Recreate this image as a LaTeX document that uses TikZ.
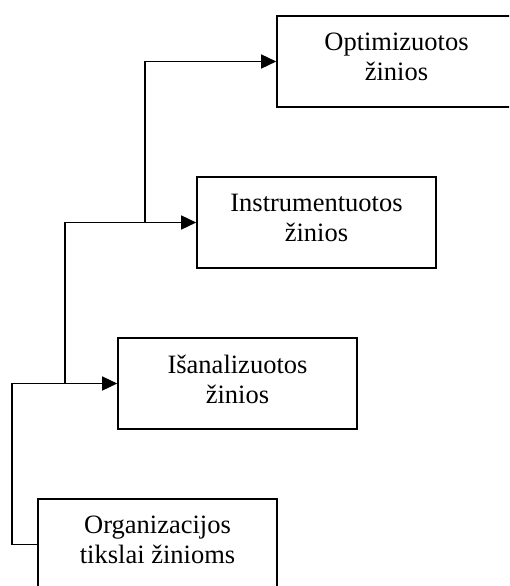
\documentclass[tikz,border=0pt]{standalone}
\usepackage{fontspec}
\setmainfont{Liberation Serif}
\usetikzlibrary{arrows.meta}
\tikzset{
  box/.style={draw, line width=1.6pt, minimum width=239pt, minimum height=91pt, inner sep=0pt},
  lbl/.style={align=center, inner sep=0pt, font=\fontsize{26.5}{30}\selectfont},
  conn/.style={line width=1.5pt},
  arr/.style={conn, -{Triangle[length=15pt,width=14pt]}}
}
\begin{document}
\begin{tikzpicture}[x=1pt,y=-1pt]
\useasboundingbox (0,0) rectangle (509,586);
\clip (0,0) rectangle (509,586);
\fill[white] (0,0) rectangle (509,586);
% boxes
\node[box] (b1) at (396.5,61.5) {};
\node[box] (b2) at (316.5,222.5) {};
\node[box] (b3) at (237.5,383.5) {};
\node[box] (b4) at (157.5,544.5) {};
% texts
\node[lbl] (t1) at ([yshift=4.5pt]b1.center) {Optimizuotos\\žinios};
\node[lbl] (t2) at ([yshift=4.5pt]b2.center) {Instrumentuotos\\žinios};
\node[lbl] (t3) at ([yshift=4.5pt]b3.center) {Išanalizuotos\\žinios};
\node[lbl] (t4) at ([yshift=4.5pt]b4.center) {Organizacijos\\tikslai žinioms};
% junction coordinates
\coordinate (c0) at (12,544.5);
\coordinate (j3) at (65,383.5);
\coordinate (j2) at (145,222.5);
% connectors
\draw[arr] (b4.west) -- (c0) |- (b3.west);
\draw[arr] (j3) |- (b2.west);
\draw[arr] (j2) |- (b1.west);
\end{tikzpicture}
\end{document}
